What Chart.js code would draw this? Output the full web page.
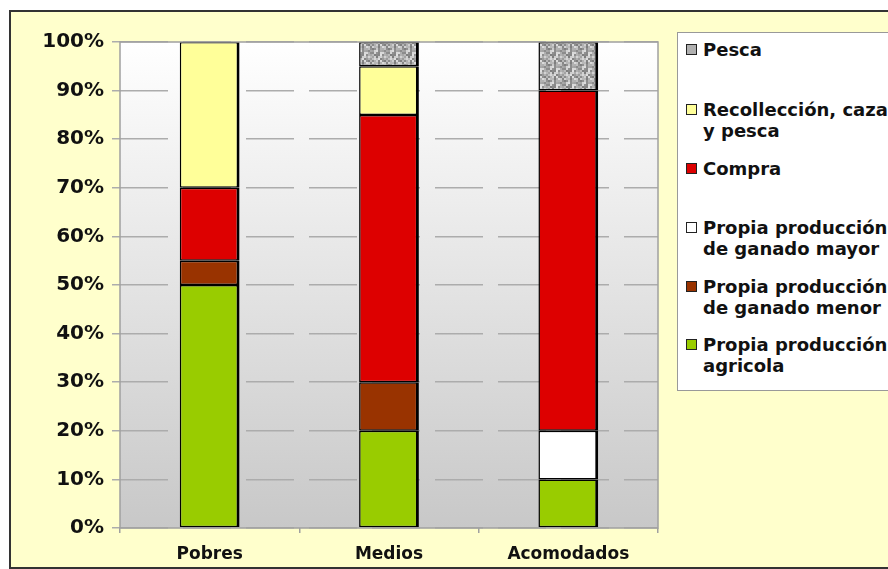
<!DOCTYPE html>
<html>
<head>
<meta charset="utf-8">
<script src="https://cdn.jsdelivr.net/npm/chart.js@4/dist/chart.umd.min.js"></script>
<style>
  html, body { margin: 0; padding: 0; background: #fff; overflow: hidden; }
  #frame { position: absolute; left: 9px; top: 10px; width: 900px; height: 555px;
           background: #ffffcc; border: 2px solid #333; }
  #wrap { position: absolute; left: 0; top: 0; width: 888px; height: 569px; }
  #legend { position: absolute; left: 677px; top: 32px; width: 240px; height: 357px;
            background: #fff; border: 1.5px solid #999;
            font: bold 18px "DejaVu Sans", Verdana, sans-serif; color: #111; }
  .item { position: absolute; left: 8px; line-height: 21px; }
  .item .sw { position: absolute; left: 0; top: 5px; width: 9px; height: 9px; border: 1.5px solid #222; }
  .item .tx { margin-left: 17px; display: block; white-space: nowrap; }
</style>
</head>
<body>
<div id="frame"></div>
<div id="wrap"><canvas id="c"></canvas></div>
<div id="legend"></div>
<script>
// Distribución de las fuentes de alimento por grupo (porcentajes)
const categories = ['Pobres', 'Medios', 'Acomodados'];
const agricola    = [50, 20, 10];
const ganadoMenor = [5, 10, null];
const ganadoMayor = [null, null, 10];
const compra      = [15, 55, 70];
const recoleccion = [30, 10, null];
const pesca       = [null, 5, 10];
const yTicks = [0, 10, 20, 30, 40, 50, 60, 70, 80, 90, 100];

// Textura moteada gris para "Pesca" (determinista, bloques de 2px)
function speckle() {
  const s = 16, cv = document.createElement('canvas');
  cv.width = s; cv.height = s;
  const g = cv.getContext('2d');
  for (let y = 0; y < s; y += 2) for (let x = 0; x < s; x += 2) {
    const h = (((x + 3) * 73856093) ^ ((y + 7) * 19349663)) >>> 0;
    const v = 125 + ((h >>> 5) % 100);
    g.fillStyle = `rgb(${v},${v},${v})`;
    g.fillRect(x, y, 2, 2);
  }
  return g.createPattern(cv, 'repeat');
}

const series = [
  { label: 'Propia producción agricola', data: agricola, color: '#99cc00', legend: ['Propia producción', 'agricola'], top: 301 },
  { label: 'Propia producción de ganado menor', data: ganadoMenor, color: '#993300', legend: ['Propia producción', 'de ganado menor'], top: 243 },
  { label: 'Propia producción de ganado mayor', data: ganadoMayor, color: '#ffffff', legend: ['Propia producción', 'de ganado mayor'], top: 184 },
  { label: 'Compra', data: compra, color: '#dd0000', legend: ['Compra'], top: 125 },
  { label: 'Recollección, caza y pesca', data: recoleccion, color: '#ffff99', legend: ['Recollección, caza', 'y pesca'], top: 66 },
  { label: 'Pesca', data: pesca, color: null, legend: ['Pesca'], top: 6 },
];

const pat = speckle();

// Leyenda HTML a la derecha
const lg = document.getElementById('legend');
[...series].reverse().forEach(s => {
  const d = document.createElement('div');
  d.className = 'item';
  d.style.top = s.top + 'px';
  d.innerHTML = `<span class="sw" style="background:${s.color || '#b0b0b0'}"></span>` +
    s.legend.map(l => `<span class="tx">${l}</span>`).join('');
  lg.appendChild(d);
});

// Fondo degradado del área de trazado + marco gris
const plotBg = { id: 'plotBg',
  beforeDraw(chart) {
    const { ctx, chartArea: a } = chart;
    const g = ctx.createLinearGradient(0, a.top, 0, a.bottom);
    g.addColorStop(0, '#ffffff');
    g.addColorStop(1, '#c8c8c8');
    ctx.save();
    ctx.fillStyle = g;
    ctx.fillRect(a.left, a.top, a.right - a.left, a.bottom - a.top);
    ctx.restore();
  },
  afterDraw(chart) {
    const { ctx, chartArea: a } = chart;
    ctx.save();
    ctx.strokeStyle = '#a0a0a0';
    ctx.lineWidth = 1.5;
    ctx.strokeRect(a.left, a.top, a.right - a.left, a.bottom - a.top);
    ctx.restore();
  }
};

const fam = '"DejaVu Sans", Verdana, sans-serif';

new Chart(document.getElementById('c'), {
  type: 'bar',
  data: {
    labels: categories,
    datasets: series.map(s => ({
      label: s.label,
      data: s.data,
      backgroundColor: s.color || pat,
      borderColor: '#000',
      borderWidth: { left: 1.5, top: 1.5, bottom: 1.5, right: 3 },
      borderSkipped: false,
      categoryPercentage: 1,
      barPercentage: 1 / 3,
    }))
  },
  options: {
    responsive: true,
    maintainAspectRatio: false,
    animation: false,
    layout: { padding: { left: 0, top: 42, right: 230, bottom: 0 } },
    plugins: { legend: { display: false }, tooltip: { enabled: false } },
    scales: {
      x: {
        stacked: true,
        offset: true,
        border: { display: false },
        grid: { offset: true, drawOnChartArea: false, drawTicks: true, tickLength: 5, color: '#a0a0a0', lineWidth: 1.5 },
        ticks: { color: '#111', font: { family: fam, weight: 'bold', size: 17 }, padding: 11 },
        afterFit(s) { s.height = 41; }
      },
      y: {
        stacked: true,
        min: 0, max: 100,
        border: { display: false, dash: [48, 15] },
        grid: { color: '#acacac', lineWidth: 1.5, tickLength: 8, tickBorderDash: [] },
        afterBuildTicks(s) { s.ticks = yTicks.map(v => ({ value: v })); },
        ticks: { color: '#111', font: { family: fam, weight: 'bold', size: 20 }, padding: 8, callback: v => v + '%' },
        afterFit(s) { s.width = 120; }
      }
    }
  },
  plugins: [plotBg]
});
</script>
</body>
</html>
